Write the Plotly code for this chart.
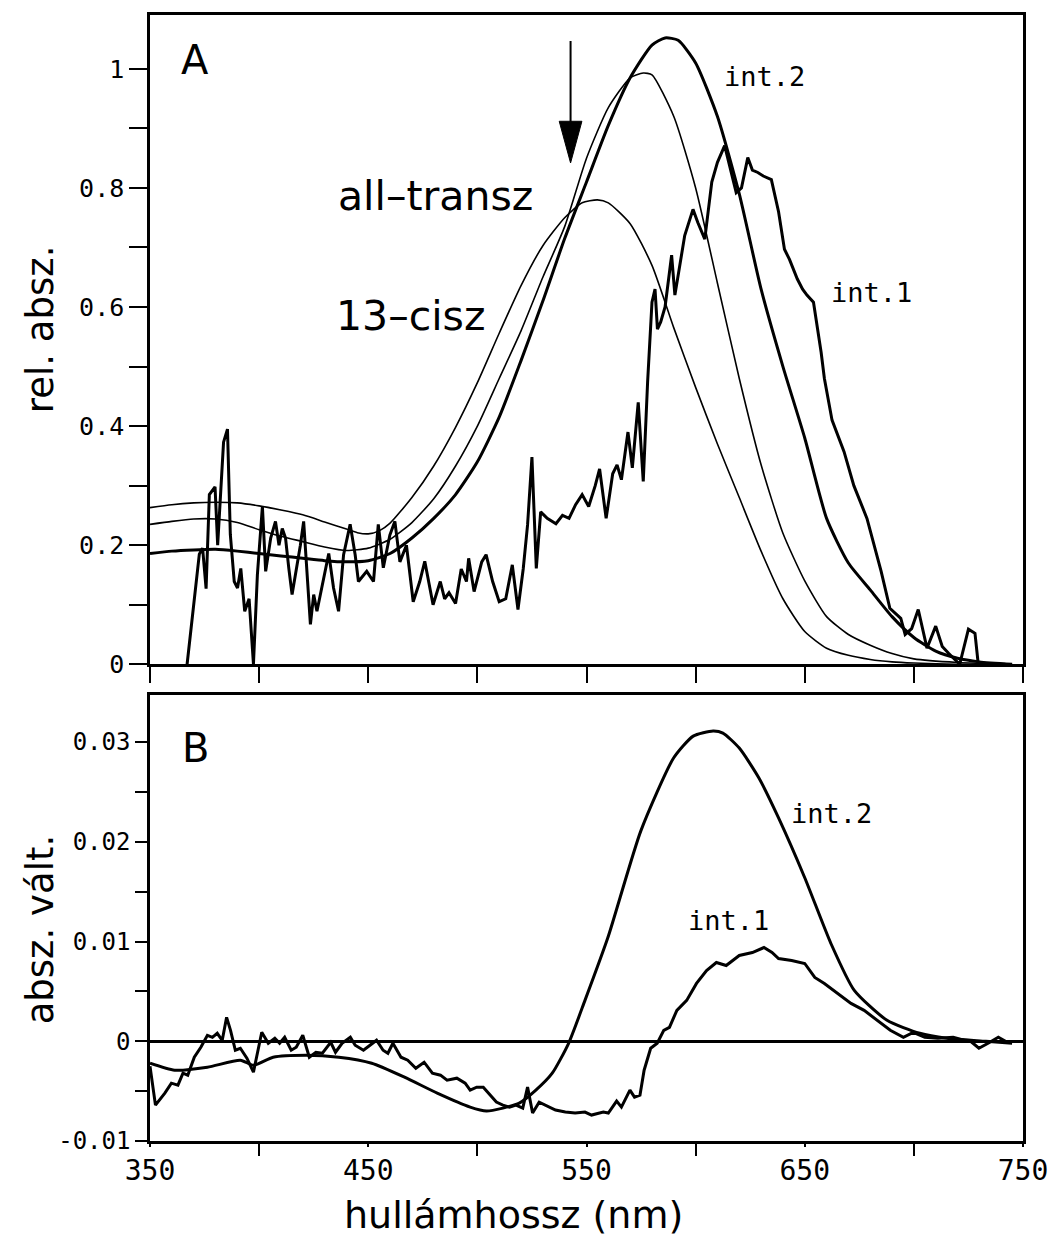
import plotly.graph_objects as go

# ---------------- Panel A data (relative absorbance) ----------------
WL_CIS13 = [350, 360, 370, 380, 390, 400, 410, 420, 430, 440, 445, 450, 455, 460, 470, 480, 490, 500,
            510, 520, 530, 540, 548, 555, 560, 570, 580, 590, 600, 610, 620, 630, 640, 650, 660, 670,
            680, 690, 700, 720, 745]
ABS_CIS13 = [0.263, 0.268, 0.271, 0.272, 0.271, 0.266, 0.259, 0.251, 0.239, 0.227, 0.221, 0.219, 0.224,
             0.237, 0.280, 0.333, 0.398, 0.473, 0.556, 0.636, 0.703, 0.750, 0.775, 0.780, 0.775, 0.740,
             0.670, 0.565, 0.465, 0.370, 0.280, 0.190, 0.110, 0.055, 0.027, 0.015, 0.008, 0.004, 0.002,
             0.0, 0.0]

WL_TRANS = [350, 360, 370, 380, 390, 400, 410, 420, 430, 440, 450, 460, 470, 480, 490, 500, 510, 520,
            530, 540, 550, 560, 570, 576, 580, 590, 600, 610, 620, 630, 640, 650, 660, 670, 680, 690,
            700, 720, 745]
ABS_TRANS = [0.235, 0.240, 0.244, 0.244, 0.238, 0.226, 0.215, 0.206, 0.197, 0.191, 0.195, 0.210, 0.238,
             0.278, 0.333, 0.400, 0.480, 0.560, 0.650, 0.735, 0.850, 0.935, 0.985, 0.993, 0.990, 0.920,
             0.800, 0.640, 0.480, 0.335, 0.220, 0.140, 0.080, 0.050, 0.032, 0.018, 0.009, 0.003, 0.0]

WL_INT2_A = [350, 360, 370, 380, 390, 400, 410, 420, 430, 440, 450, 460, 470, 480, 490, 500, 510, 520,
             530, 540, 550, 560, 570, 580, 586, 592, 600, 610, 620, 630, 640, 650, 660, 670, 680, 690,
             700, 710, 720, 730, 745]
ABS_INT2_A = [0.186, 0.190, 0.192, 0.193, 0.190, 0.186, 0.182, 0.178, 0.174, 0.172, 0.174, 0.186, 0.212,
              0.245, 0.285, 0.340, 0.415, 0.510, 0.610, 0.715, 0.810, 0.905, 0.985, 1.040, 1.052, 1.048,
              1.010, 0.920, 0.790, 0.630, 0.500, 0.380, 0.245, 0.170, 0.125, 0.080, 0.045, 0.022, 0.010,
              0.004, 0.0]

WL_INT1_A = [367, 372.6, 374.1, 375.7, 377.2, 379.8, 381, 383.7, 385.5, 386.8, 388.6, 390.1, 391.6, 393.4,
             395.4, 397.4, 399.2, 401.5, 403, 405.3, 407.5, 409.1, 410.6, 412.1, 413.6, 415.1, 418.9,
             420.4, 423.5, 425, 426.5, 428.8, 431.9, 434.1, 436.4, 438.7, 441.7, 444, 445.5, 449.3,
             452.4, 454.6, 456.9, 459.9, 462.2, 464.5, 467.5, 470.6, 473.6, 475.9, 479.7, 483, 485,
             487, 490, 492.6, 495, 496, 498.5, 502, 504, 507, 510, 513, 516, 518.6, 521, 523, 525, 527,
             529, 532, 536, 539, 542, 545, 548, 551, 554, 556, 559, 562, 564, 566, 569, 571, 573.7, 576,
             578, 580, 581.4, 582.5, 584, 586, 589, 590.5, 595, 598.8, 601, 604.2, 607.4, 610, 613.3,
             618.6, 621, 623.9, 626, 628.5, 631, 634.7, 638, 640.7, 643, 646.6, 649, 651, 654, 657.5,
             659, 662.5, 668, 672.5, 678.5, 685, 689, 694, 696, 699, 702, 706, 710, 713, 716, 721, 725,
             728, 729.5, 735, 742]
ABS_INT1_A = [0.0, 0.185, 0.195, 0.127, 0.285, 0.298, 0.200, 0.373, 0.395, 0.218, 0.139, 0.128, 0.161,
              0.089, 0.110, 0.0, 0.150, 0.265, 0.156, 0.212, 0.240, 0.200, 0.228, 0.212, 0.161, 0.117,
              0.200, 0.240, 0.067, 0.117, 0.089, 0.128, 0.186, 0.128, 0.089, 0.184, 0.235, 0.184, 0.139,
              0.156, 0.139, 0.235, 0.162, 0.217, 0.240, 0.172, 0.200, 0.105, 0.139, 0.173, 0.100, 0.139,
              0.110, 0.120, 0.102, 0.160, 0.139, 0.178, 0.122, 0.172, 0.184, 0.139, 0.105, 0.110, 0.167,
              0.092, 0.160, 0.234, 0.348, 0.161, 0.256, 0.245, 0.236, 0.250, 0.245, 0.268, 0.285, 0.265,
              0.300, 0.328, 0.245, 0.320, 0.335, 0.310, 0.390, 0.330, 0.440, 0.307, 0.474, 0.608, 0.630,
              0.563, 0.575, 0.600, 0.687, 0.620, 0.720, 0.764, 0.742, 0.714, 0.810, 0.843, 0.871, 0.792,
              0.800, 0.851, 0.830, 0.826, 0.820, 0.814, 0.760, 0.697, 0.680, 0.647, 0.630, 0.620, 0.608,
              0.524, 0.480, 0.410, 0.357, 0.300, 0.245, 0.156, 0.094, 0.077, 0.050, 0.060, 0.092, 0.027,
              0.064, 0.030, 0.018, 0.0, 0.059, 0.052, 0.0, 0.0, 0.0]

# ---------------- Panel B data (absorbance change) ----------------
WL_INT2_B = [350, 361.3, 376.3, 391.4, 397.4, 406.4, 421.5, 436.5, 451.6, 466.6, 481.6, 496.7, 504.2,
             511.7, 519.2, 526.8, 534.3, 541.8, 549.3, 559.8, 574.9, 589.9, 598.9, 608, 612.5, 620, 629,
             638, 650, 662, 672.7, 687.7, 702.7, 715, 733, 745]
DA_INT2_B = [-0.0022, -0.0029, -0.0026, -0.0019, -0.0024, -0.0016, -0.0014, -0.0016, -0.0022, -0.0036,
             -0.0052, -0.0066, -0.0070, -0.0067, -0.0062, -0.0049, -0.0032, -0.0002, 0.0041, 0.0104,
             0.0211, 0.0284, 0.0306, 0.0311, 0.0309, 0.0294, 0.0264, 0.0224, 0.0164, 0.0098, 0.0051,
             0.0021, 0.0008, 0.0003, 0.0, -0.0002]

WL_INT1_B = [350, 352.5, 356.8, 359.8, 362.8, 365.1, 367.3, 370.3, 373.3, 376.3, 378.6, 380.8, 383.1,
             385.1, 386.9, 389.1, 391.4, 394.4, 397.4, 401.2, 404.2, 407.2, 409.4, 411.7, 414.7, 417,
             420, 423, 426, 429, 432.8, 435, 438, 441.8, 444, 447.8, 450.8, 453.8, 456.8, 459, 461.3,
             465, 468.1, 471.8, 475.6, 479.4, 483.1, 486.1, 490.6, 494.4, 496.7, 499.7, 502.7, 505.7,
             508.7, 511.7, 514.7, 517.7, 520.8, 523, 525.3, 528.3, 531.3, 535.8, 540.3, 544.8, 549.3,
             552.3, 557.7, 560, 563.8, 566, 569.9, 572, 574.5, 576.4, 579.4, 582.4, 585.4, 588, 591.4,
             595.9, 600.4, 605, 609.5, 614, 620, 626, 631.3, 635, 638, 644, 650, 654.6, 659, 665.2,
             671.2, 677.2, 683.2, 689.2, 695.2, 699.7, 705, 711, 718, 723, 726, 729.8, 734, 738.7, 742]
DA_INT1_B = [-0.0025, -0.0064, -0.0052, -0.0042, -0.0044, -0.0032, -0.0034, -0.0016, -0.0006, 0.0006,
             0.0004, 0.0008, 0.0001, 0.0024, 0.0011, -0.0009, -0.0007, -0.0017, -0.0031, 0.0009,
             -0.0002, 0.0003, -0.0002, 0.0004, -0.0009, -0.0006, 0.0006, -0.0016, -0.0011, -0.0012,
             -0.0001, -0.0011, -0.0002, 0.0004, -0.0004, -0.0009, -0.0004, 0.0001, -0.0009, -0.0012,
             -0.0002, -0.0016, -0.0019, -0.0027, -0.0021, -0.0032, -0.0034, -0.0039, -0.0037, -0.0042,
             -0.0049, -0.0046, -0.0046, -0.0054, -0.0061, -0.0064, -0.0066, -0.0064, -0.0067, -0.0046,
             -0.0072, -0.0061, -0.0064, -0.0069, -0.0071, -0.0072, -0.0071, -0.0074, -0.0071, -0.0072,
             -0.0060, -0.0066, -0.0049, -0.0056, -0.0054, -0.0029, -0.0007, -0.0002, 0.0011, 0.0014,
             0.0031, 0.0041, 0.0058, 0.0071, 0.0079, 0.0076, 0.0086, 0.0089, 0.0094, 0.0089, 0.0083,
             0.0081, 0.0078, 0.0064, 0.0058, 0.0048, 0.0038, 0.0031, 0.0021, 0.0011, 0.0004, 0.0009,
             0.0004, 0.0003, 0.0004, 0.0001, 0.0, -0.0007, -0.0002, 0.0004, 0.0]

# ---------------- Axis ticks ----------------
X_TICKS = [350, 400, 450, 500, 550, 600, 650, 700, 750]
X_LABELED = [350, 450, 550, 650, 750]
X_MINOR_B = [400, 500, 600, 700]
YA_TICKS = [0, 0.2, 0.4, 0.6, 0.8, 1.0]
YA_MINOR = [0.1, 0.3, 0.5, 0.7, 0.9]
YB_TICKS = [-0.01, 0, 0.01, 0.02, 0.03]
YB_TEXT = ["-0.01", "0", "0.01", "0.02", "0.03"]
YB_MINOR = [-0.005, 0.005, 0.015, 0.025]

# arrow marker in panel A (wavelength, top, tip)
ARROW_X, ARROW_TOP, ARROW_TIP = 542.7, 1.047, 0.842

MONO = "DejaVu Sans Mono"
SANS = "DejaVu Sans"

fig = go.Figure()

def add(x, y, w, ax, shape="spline"):
    fig.add_trace(go.Scatter(x=x, y=y, mode="lines", xaxis=ax[0], yaxis=ax[1],
                             line=dict(color="black", width=w, shape=shape,
                                       **({"smoothing": 0.6} if shape == "spline" else {})),
                             hoverinfo="skip", showlegend=False))

add(WL_CIS13, ABS_CIS13, 1.6, ("x", "y"))
add(WL_TRANS, ABS_TRANS, 1.6, ("x", "y"))
add(WL_INT2_A, ABS_INT2_A, 3.0, ("x", "y"))
add(WL_INT1_A, ABS_INT1_A, 3.0, ("x", "y"), shape="linear")
add(WL_INT2_B, DA_INT2_B, 3.0, ("x2", "y2"))
add(WL_INT1_B, DA_INT1_B, 3.0, ("x2", "y2"), shape="linear")

axis_common = dict(showline=True, mirror=True, linecolor="black", linewidth=2.5,
                   showgrid=False, ticks="outside", tickcolor="black", tickwidth=2,
                   tickfont=dict(family=MONO, size=25, color="black"))

fig.update_layout(
    width=1060, height=1241,
    margin=dict(l=150, r=29, t=12, b=100),
    paper_bgcolor="white", plot_bgcolor="white", showlegend=False,
    xaxis=dict(axis_common, domain=[0, 1], range=[350, 750], anchor="y",
               tickmode="array", tickvals=X_TICKS, showticklabels=False, ticklen=16,
               zeroline=False),
    yaxis=dict(axis_common, domain=[0.4234, 1], range=[0, 1.0905], anchor="x",
               tickmode="array", tickvals=YA_TICKS, ticklen=18, zeroline=False,
               minor=dict(tickvals=YA_MINOR, ticks="outside", ticklen=18, tickwidth=2,
                          tickcolor="black")),
    xaxis2=dict(axis_common, domain=[0, 1], range=[350, 750], anchor="y2",
                tickmode="array", tickvals=X_LABELED, ticklen=3, zeroline=False,
                tickfont=dict(family=MONO, size=28, color="black"),
                minor=dict(tickvals=X_MINOR_B, ticks="outside", ticklen=12, tickwidth=2,
                           tickcolor="black")),
    yaxis2=dict(axis_common, domain=[0, 0.3959], range=[-0.01, 0.0347], anchor="x2",
                tickmode="array", tickvals=YB_TICKS, ticktext=YB_TEXT, ticklen=12,
                tickfont=dict(family=MONO, size=24, color="black"),
                zeroline=True, zerolinecolor="black", zerolinewidth=2.5,
                minor=dict(tickvals=YB_MINOR, ticks="outside", ticklen=12, tickwidth=2,
                           tickcolor="black")),
)

def note(text, x, y, xref, yref, size, family=SANS, xanchor="left", angle=0):
    fig.add_annotation(text=text, x=x, y=y, xref=xref, yref=yref, showarrow=False,
                       xanchor=xanchor, yanchor="middle", textangle=angle,
                       font=dict(family=family, size=size, color="black"))

# panel A labels
note("A", 370.5, 1.015, "x", "y", 40, xanchor="center")
note("all–transz", 435, 0.787, "x", "y", 41)
note("13–cisz", 434.5, 0.585, "x", "y", 41)
note("int.2", 612, 0.987, "x", "y", 27, family=MONO)
note("int.1", 661, 0.625, "x", "y", 27, family=MONO)
# panel B labels
note("B", 371, 0.0294, "x2", "y2", 40, xanchor="center")
note("int.2", 642.7, 0.0228, "x2", "y2", 27, family=MONO)
note("int.1", 595.8, 0.0121, "x2", "y2", 27, family=MONO)
# axis titles
note("rel. absz.", -0.126, 0.721, "paper", "paper", 37, xanchor="center", angle=-90)
note("absz. vált.", -0.126, 0.188, "paper", "paper", 37, xanchor="center", angle=-90)
note("hullámhossz (nm)", 0.4166, -0.066, "paper", "paper", 38, xanchor="center")

# arrow
fig.add_shape(type="line", xref="x", yref="y", x0=ARROW_X, x1=ARROW_X,
              y0=ARROW_TOP, y1=ARROW_TIP + 0.06, line=dict(color="black", width=2))
fig.add_shape(type="path", xref="x", yref="y", fillcolor="black", line=dict(color="black", width=1),
              path=f"M {ARROW_X - 5.2},{ARROW_TIP + 0.07} L {ARROW_X + 5.2},{ARROW_TIP + 0.07} "
                   f"L {ARROW_X},{ARROW_TIP} Z")

fig.write_html("out.html")
